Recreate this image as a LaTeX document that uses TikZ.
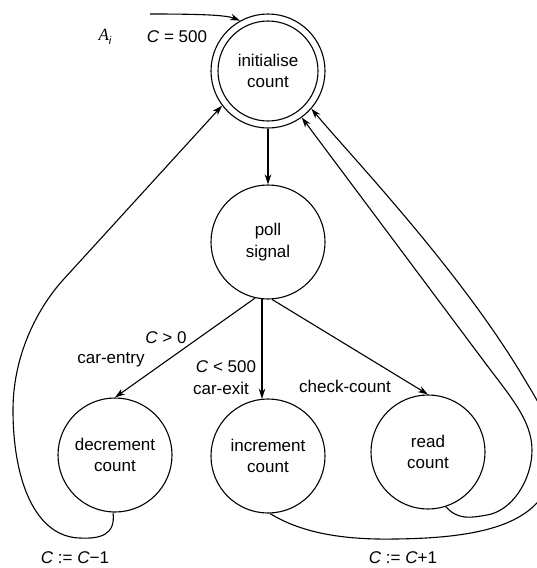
\documentclass[tikz,border=0pt]{standalone}
\usepackage{fontspec}
\setmainfont{Liberation Sans}
\newfontfamily\seriffont{Liberation Serif}
\usetikzlibrary{arrows.meta}

\begin{document}
\begin{tikzpicture}[x=1pt,y=-1pt,
  state/.style={circle, draw, line width=1.1pt, minimum size=114pt, inner sep=0pt,
    align=center, font=\fontsize{17}{21.5}\selectfont},
  trans/.style={-{Stealth[length=10pt,width=6.5pt,inset=3pt]}, line width=1.1pt},
  lbl/.style={inner sep=0pt, font=\fontsize{17}{21}\selectfont}
]
\useasboundingbox (0,0) rectangle (537,568);

% states
\node[state] (init) at (268,71)  {initialise\\count};
\draw[line width=1.1pt] (init.center) circle (50pt);
\node[state] (poll) at (268,242) {poll\\signal};
\node[state] (dec)  at (115,455) {decrement\\count};
\node[state] (inc)  at (268,456) {increment\\count};
\node[state] (read) at (428,452) {read\\count};

% labels
\node[lbl] (ai)    at (105,37)  {{\seriffont\itshape A}\raisebox{-4pt}{\fontsize{11}{11}\selectfont\itshape i}};
\node[lbl] (cinit) at (177,37)  {\textit{C} = 500};
\node[lbl] (cgt)   at (166,338) {\textit{C} > 0};
\node[lbl] (entry) at (111,360) {car-entry};
\node[lbl] (clt)   at (226,367) {\textit{C} < 500};
\node[lbl] (exit)  at (221,388) {car-exit};
\node[lbl] (check) at (345,386) {check-count};
\node[lbl] (cdec)  at (75,558)  {\textit{C} := \textit{C}−1};
\node[lbl] (cinc)  at (403,558) {\textit{C} := \textit{C}+1};

% entry transition
\coordinate (start) at (150,14);
\draw[trans] (start) .. controls (200,14) and (226,15) .. (init.119);

% forward transitions
\draw[trans] (init) -- (poll);
\draw[trans] (poll.-103) -- (dec.90);
\draw[trans] (poll.-96) -- (inc.96);
\draw[trans] (poll.-86) -- (read.90);

% return transitions
\draw[trans] (dec.-92) .. controls (116,535) and (100,539) .. (80,538)
  .. controls (35,537) and (13,480) .. (13,410)
  .. controls (13,350) and (42,303) .. (63,280) -- (init.217);

\draw[trans] (inc.-88) .. controls (300,532) and (340,540) .. (395,539)
  .. controls (480,538) and (560,525) .. (552,450)
  .. controls (550,420) and (540,405) .. (525,380)
  .. controls (460,270) and (350,155) .. (init.-41);

\draw[trans] (read.-72) .. controls (458,520) and (470,518) .. (487,515)
  .. controls (512,511) and (532,480) .. (532,450)
  .. controls (532,420) and (509,395) .. (483,360) -- (init.-54);
\end{tikzpicture}
\end{document}
